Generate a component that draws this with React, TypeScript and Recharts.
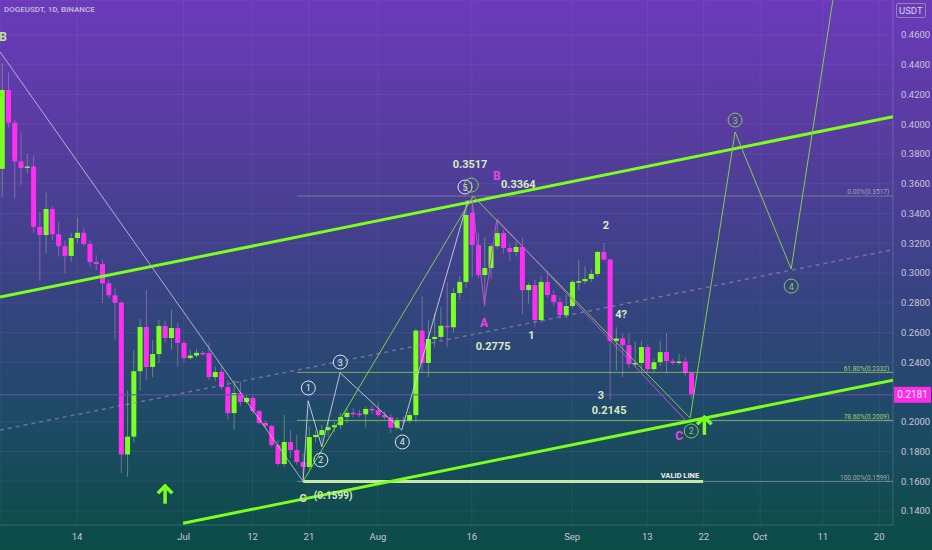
import React from 'react';
import {
  ComposedChart,
  Bar,
  XAxis,
  YAxis,
  CartesianGrid,
  ReferenceLine,
  ReferenceDot,
} from 'recharts';

// day index, 0 = Jun 14
const days = [
  -12, -11, -10, -9, -8, -7, -6, -5, -4, -3, -2, -1, 0, 1, 2, 3, 4, 5, 6, 7, 8, 9, 10,
  11, 12, 13, 14, 15, 16, 17, 18, 19, 20, 21, 22, 23, 24, 25, 26, 27, 28, 29, 30, 31,
  32, 33, 34, 35, 36, 37, 38, 39, 40, 41, 42, 43, 44, 45, 46, 47, 48, 49, 50, 51, 52,
  53, 54, 55, 56, 57, 58, 59, 60, 61, 62, 63, 64, 65, 66, 67, 68, 69, 70, 71, 72, 73,
  74, 75, 76, 77, 78, 79, 80, 81, 82, 83, 84, 85, 86, 87, 88, 89, 90, 91, 92, 93, 94,
  95, 96, 97, 98,
];

const opens = [
  0.370, 0.423, 0.401, 0.375, 0.3706, 0.3716, 0.331, 0.3255, 0.343, 0.326, 0.318, 0.3115,
  0.3235, 0.327, 0.3195, 0.3073, 0.306, 0.293, 0.285, 0.280, 0.178, 0.190, 0.234, 0.2637,
  0.2368, 0.2455, 0.2644, 0.2563, 0.263, 0.253, 0.2428, 0.2445, 0.2463, 0.2461, 0.230,
  0.2335, 0.2233, 0.2058, 0.2193, 0.2133, 0.216, 0.2072, 0.1992, 0.1972, 0.1843, 0.1716,
  0.1864, 0.181, 0.1729, 0.1696, 0.1897, 0.1911, 0.1944, 0.1963, 0.1977, 0.2032, 0.206,
  0.2055, 0.205, 0.2086, 0.2078, 0.2045, 0.203, 0.196, 0.2012, 0.2005, 0.2045, 0.2613,
  0.2395, 0.2556, 0.257, 0.2645, 0.2635, 0.2865, 0.294, 0.3405, 0.3188, 0.2986, 0.3033,
  0.318, 0.3268, 0.3168, 0.3141, 0.3175, 0.2885, 0.2919, 0.2684, 0.294, 0.2852, 0.2805,
  0.2717, 0.2778, 0.294, 0.2945, 0.296, 0.2993, 0.3142, 0.309, 0.2543, 0.256, 0.2515,
  0.2388, 0.2395, 0.2502, 0.2354, 0.240, 0.2468, 0.2408, 0.2395, 0.2405, 0.2327,
];

const highs = [
  0.441, 0.435, 0.403, 0.395, 0.380, 0.379, 0.341, 0.354, 0.345, 0.334, 0.322, 0.327,
  0.3375, 0.330, 0.322, 0.312, 0.309, 0.295, 0.290, 0.281, 0.221, 0.248, 0.269, 0.2885,
  0.255, 0.2685, 0.268, 0.275, 0.2665, 0.2545, 0.2485, 0.249, 0.2475, 0.253, 0.237,
  0.237, 0.228, 0.228, 0.227, 0.218, 0.2185, 0.208, 0.201, 0.198, 0.188, 0.2045,
  0.1945, 0.191, 0.179, 0.197, 0.194, 0.198, 0.200, 0.200, 0.206, 0.209, 0.209,
  0.208, 0.210, 0.211, 0.213, 0.207, 0.205, 0.203, 0.2035, 0.207, 0.2625, 0.284,
  0.2685, 0.273, 0.277, 0.294, 0.290, 0.298, 0.349, 0.3517, 0.327, 0.324, 0.3195,
  0.3364, 0.329, 0.3195, 0.321, 0.324, 0.2935, 0.2953, 0.2975, 0.301, 0.2885, 0.284,
  0.2855, 0.2953, 0.3088, 0.3045, 0.3025, 0.3145, 0.3202, 0.3095, 0.2635, 0.2595,
  0.2595, 0.254, 0.2545, 0.2518, 0.2425, 0.2545, 0.2595, 0.2425, 0.2455, 0.2435, 0.2335,
];

const lows = [
  0.351, 0.398, 0.350, 0.359, 0.367, 0.327, 0.295, 0.313, 0.322, 0.311, 0.300, 0.3075,
  0.320, 0.318, 0.304, 0.302, 0.280, 0.283, 0.255, 0.1655, 0.163, 0.186, 0.221, 0.228,
  0.230, 0.2395, 0.253, 0.2483, 0.237, 0.2405, 0.2415, 0.243, 0.2445, 0.228, 0.2275,
  0.2215, 0.201, 0.1945, 0.2105, 0.212, 0.2055, 0.198, 0.1955, 0.183, 0.170, 0.1696,
  0.1756, 0.171, 0.1599, 0.168, 0.186, 0.187, 0.190, 0.193, 0.195, 0.199, 0.203,
  0.203, 0.196, 0.205, 0.2035, 0.2015, 0.1925, 0.1945, 0.198, 0.199, 0.200, 0.233,
  0.230, 0.250, 0.255, 0.250, 0.260, 0.282, 0.290, 0.2975, 0.2965, 0.2775, 0.296,
  0.316, 0.313, 0.308, 0.311, 0.272, 0.2795, 0.2637, 0.2665, 0.2835, 0.2775, 0.2695,
  0.2695, 0.2765, 0.2885, 0.2925, 0.294, 0.2975, 0.3085, 0.2145, 0.2345, 0.230,
  0.236, 0.2365, 0.2325, 0.233, 0.2335, 0.2375, 0.2325, 0.2385, 0.2385, 0.2305, 0.2155,
];

const closes = [
  0.423, 0.401, 0.375, 0.3706, 0.3716, 0.331, 0.3255, 0.343, 0.326, 0.318, 0.3115, 0.3235,
  0.327, 0.3195, 0.3073, 0.306, 0.293, 0.285, 0.280, 0.178, 0.190, 0.234, 0.2637, 0.2368,
  0.2455, 0.2644, 0.2563, 0.263, 0.253, 0.2428, 0.2445, 0.2463, 0.2461, 0.230, 0.2335,
  0.2233, 0.2058, 0.2193, 0.2133, 0.216, 0.2072, 0.1992, 0.1972, 0.1843, 0.1716, 0.1864,
  0.181, 0.1729, 0.1696, 0.1897, 0.1911, 0.1944, 0.1963, 0.1977, 0.2032, 0.206, 0.2055,
  0.205, 0.2086, 0.2078, 0.2045, 0.203, 0.196, 0.2012, 0.2005, 0.2045, 0.2613, 0.2395,
  0.2556, 0.257, 0.2645, 0.2635, 0.2865, 0.294, 0.339, 0.3188, 0.2986, 0.3033, 0.318,
  0.3268, 0.3168, 0.3141, 0.3175, 0.2885, 0.2919, 0.2684, 0.294, 0.2852, 0.2805, 0.2717,
  0.2778, 0.294, 0.2945, 0.296, 0.2993, 0.3142, 0.309, 0.2543, 0.256, 0.2515, 0.2388,
  0.2395, 0.2502, 0.2354, 0.240, 0.2468, 0.2408, 0.2395, 0.2405, 0.2327, 0.2181,
];

const tickDays = [0, 17, 28, 37, 48, 63, 79, 91, 100, 109, 119, 128];
const tickLabels = ['14', 'Jul', '12', '21', 'Aug', '16', 'Sep', '13', '22', 'Oct', '11', '20'];
const priceTicks = [0.14, 0.16, 0.18, 0.2, 0.24, 0.26, 0.28, 0.3, 0.32, 0.34, 0.36, 0.38, 0.4, 0.42, 0.44, 0.46];
const lastPrice = 0.2181;

// wave paths as [day, price]
const minorWave = [[36.07, 0.1599], [36.87, 0.2141], [39.05, 0.1832], [41.97, 0.2329], [51.8, 0.1944], [62.4, 0.349]];
const majorWave = [[36.07, 0.1599], [63.2, 0.3517], [97.83, 0.2025], [105.0, 0.3948], [113.95, 0.3027], [121.4, 0.505]];
const abcWave = [[63.04, 0.349], [65.0, 0.2785], [66.98, 0.3363], [97.2, 0.2005]];

const rows = days.map((d, i) => ({
  d,
  open: opens[i],
  high: highs[i],
  low: lows[i],
  close: closes[i],
  range: [lows[i], highs[i]],
}));

const UP = '#7dff1f';
const DOWN = '#ff2ef0';
const LIME = '#7cff1c';
const PALE = '#d8ecc0';
const PINK = '#f040e8';
const WAVE_GREEN = '#7fd04a';
const FONT = 'Roboto, sans-serif';

const Candle = (props: any) => {
  const { x, y, width, height, payload } = props;
  if (!payload) return null;
  const { open, close, high, low } = payload;
  const top = Math.min(y, y + height);
  const h = Math.abs(height);
  const k = h / (high - low);
  const cx = x + width / 2;
  const yO = top + (high - open) * k;
  const yC = top + (high - close) * k;
  const up = close >= open;
  const bt = Math.min(yO, yC);
  const bh = Math.max(1.5, Math.abs(yC - yO));
  return (
    <g>
      <line x1={cx} x2={cx} y1={top} y2={top + h} stroke={up ? 'rgba(150,190,130,0.55)' : 'rgba(190,130,210,0.55)'} strokeWidth={1} />
      <rect x={cx - 2.5} y={bt} width={5} height={bh} fill={up ? UP : DOWN} />
    </g>
  );
};

const textShape = (t: string, color: string, size: number, weight = 700, anchor = 'middle') => (p: any) => (
  <text x={p.cx} y={p.cy} fill={color} fontSize={size} fontWeight={weight} textAnchor={anchor} dominantBaseline="central" fontFamily={FONT}>
    {t}
  </text>
);

const circleShape = (n: string, color: string) => (p: any) => (
  <g>
    <circle cx={p.cx} cy={p.cy} r={7} fill="none" stroke={color} strokeWidth={1} />
    <text x={p.cx} y={p.cy + 0.5} fill={color} fontSize={9} textAnchor="middle" dominantBaseline="central" fontFamily={FONT}>{n}</text>
  </g>
);

const arrowShape = (p: any) => (
  <g stroke={LIME} strokeWidth={3.5} fill="none" strokeLinecap="square">
    <path d={`M${p.cx - 6} ${p.cy + 7} L${p.cx} ${p.cy + 1} L${p.cx + 6} ${p.cy + 7}`} />
    <line x1={p.cx} x2={p.cx} y1={p.cy + 2} y2={p.cy + 17} />
  </g>
);

const PriceTag = (props: any) => {
  const vb = props.viewBox || {};
  const x = vb.x + vb.width;
  return (
    <g>
      <rect x={x + 1} y={vb.y - 8} width={37} height={16} fill="#ff2ce6" />
      <text x={x + 19.5} y={vb.y} fill="#ffe6ff" fontSize={10} textAnchor="middle" dominantBaseline="central" fontFamily={FONT}>
        {lastPrice.toFixed(4)}
      </text>
    </g>
  );
};

const poly = (pts: number[][], key: string, stroke: string, width = 1, dash?: string) =>
  pts.slice(1).map((pt, i) => (
    <ReferenceLine
      key={key + i}
      segment={[{ x: pts[i][0], y: pts[i][1] }, { x: pt[0], y: pt[1] }]}
      stroke={stroke}
      strokeWidth={width}
      strokeDasharray={dash}
      ifOverflow="hidden"
    />
  ));

export default function App() {
  return (
    <div
      style={{
        position: 'absolute',
        left: 0,
        top: 0,
        width: 932,
        height: 550,
        overflow: 'hidden',
        background: 'linear-gradient(to bottom, #6b3abb 0%, #573c9f 25%, #3b4286 50%, #1f4a68 75%, #0b4c46 100%)',
        fontFamily: FONT,
      }}
    >
      <ComposedChart width={932} height={550} data={rows} margin={{ top: 0, right: 0, bottom: 0, left: 0 }}>
        <CartesianGrid stroke="rgba(255,255,255,0.06)" />
        <XAxis
          dataKey="d"
          type="number"
          domain={[-12.3, 130.2]}
          allowDataOverflow
          ticks={tickDays}
          tickFormatter={(v: number) => tickLabels[tickDays.indexOf(v)]}
          tick={{ fill: '#c9c6d8', fontSize: 9.5, fontFamily: FONT }}
          tickLine={false}
          axisLine={{ stroke: 'rgba(255,255,255,0.12)' }}
          height={25}
        />
        <YAxis
          orientation="right"
          type="number"
          domain={[0.1306, 0.4835]}
          allowDataOverflow
          ticks={priceTicks}
          tickFormatter={(v: number) => v.toFixed(4)}
          tick={{ fill: '#c9c6d8', fontSize: 9.5, fontFamily: FONT }}
          tickLine={false}
          axisLine={{ stroke: 'rgba(255,255,255,0.12)' }}
          width={39}
        />

        {/* channel */}
        {poly([[-12.3, 0.4487], [36.07, 0.1599]], 'diag', 'rgba(215,215,225,0.75)')}
        {poly([[-12.3, 0.1944], [130.2, 0.3157]], 'mid', 'rgba(160,140,180,0.6)', 1.5, '4 4')}

        {/* fib levels */}
        {poly([[35.1, 0.3517], [130.2, 0.3517]], 'f0', 'rgba(160,175,150,0.55)')}
        {poly([[35.1, 0.2332], [130.2, 0.2332]], 'f61', 'rgba(140,200,90,0.8)')}
        {poly([[35.1, 0.2009], [130.2, 0.2009]], 'f78', 'rgba(140,200,90,0.8)')}
        {poly([[35.1, 0.1599], [130.2, 0.1599]], 'f100', 'rgba(170,180,175,0.55)')}
        <ReferenceLine y={lastPrice} stroke="#6c4fb0" strokeWidth={1} label={<PriceTag />} />

        <Bar dataKey="range" barSize={5} shape={<Candle />} isAnimationActive={false} />

        {poly([[36.07, 0.1599], [99.9, 0.1599]], 'valid', '#c8e8a6', 3)}
        {poly([[-12.3, 0.2838], [130.2, 0.4051]], 'up', LIME, 3)}
        {poly([[16.92, 0.1318], [130.2, 0.228]], 'lo', LIME, 3)}

        {poly(minorWave, 'minor', 'rgba(225,225,235,0.8)')}
        {poly(majorWave, 'major', WAVE_GREEN)}
        {poly(abcWave, 'abc', '#c050d8')}

        {/* labels */}
        <ReferenceDot x={-11.8} y={0.4586} shape={textShape('B', '#c6e59a', 12)} />
        <ReferenceDot x={62.7} y={0.3726} shape={textShape('0.3517', PALE, 11)} />
        <ReferenceDot x={70.4} y={0.3598} shape={textShape('0.3364', PALE, 11)} />
        <ReferenceDot x={66.4} y={0.2509} shape={textShape('0.2775', PALE, 11)} />
        <ReferenceDot x={72.5} y={0.2583} shape={textShape('1', PALE, 11)} />
        <ReferenceDot x={84.4} y={0.3316} shape={textShape('2', PALE, 11)} />
        <ReferenceDot x={86.8} y={0.2724} shape={textShape('4?', PALE, 11)} />
        <ReferenceDot x={83.6} y={0.2178} shape={textShape('3', PALE, 11)} />
        <ReferenceDot x={84.9} y={0.2078} shape={textShape('0.2145', PALE, 11)} />
        <ReferenceDot x={67.0} y={0.3652} shape={textShape('B', PINK, 12)} />
        <ReferenceDot x={64.95} y={0.2664} shape={textShape('A', PINK, 12)} />
        <ReferenceDot x={96.07} y={0.1904} shape={textShape('C', PINK, 12)} />
        <ReferenceDot x={36.07} y={0.1487} shape={textShape('C', '#d8e0d0', 11)} />
        <ReferenceDot x={40.86} y={0.1501} shape={textShape('(0.1599)', PALE, 10)} />
        <ReferenceDot x={96.2} y={0.1642} shape={textShape('VALID LINE', '#f0f0f0', 7.5)} />

        <ReferenceDot x={129.6} y={0.3545} shape={textShape('0.00%(0.3517)', '#a4a2b8', 6.5, 400, 'end')} />
        <ReferenceDot x={129.6} y={0.2356} shape={textShape('61.80%(0.2332)', '#a5d070', 6.5, 400, 'end')} />
        <ReferenceDot x={129.6} y={0.2035} shape={textShape('78.60%(0.2009)', '#a5d070', 6.5, 400, 'end')} />
        <ReferenceDot x={129.6} y={0.1625} shape={textShape('100.00%(0.1599)', '#a4a8a8', 6.5, 400, 'end')} />

        <ReferenceDot x={36.9} y={0.2227} shape={circleShape('1', '#e6e6ee')} />
        <ReferenceDot x={38.9} y={0.1743} shape={circleShape('2', '#e6e6ee')} />
        <ReferenceDot x={42.0} y={0.2401} shape={circleShape('3', '#e6e6ee')} />
        <ReferenceDot x={51.9} y={0.1864} shape={circleShape('4', '#e6e6ee')} />
        <ReferenceDot x={61.9} y={0.3578} shape={circleShape('5', '#e6e6ee')} />
        <ReferenceDot x={62.9} y={0.3591} shape={circleShape('1', WAVE_GREEN)} />
        <ReferenceDot x={98.0} y={0.1938} shape={circleShape('2', WAVE_GREEN)} />
        <ReferenceDot x={105.0} y={0.4028} shape={circleShape('3', WAVE_GREEN)} />
        <ReferenceDot x={113.95} y={0.2912} shape={circleShape('4', WAVE_GREEN)} />

        <ReferenceDot x={14.04} y={0.1575} shape={arrowShape} />
        <ReferenceDot x={100.1} y={0.2038} shape={arrowShape} />
      </ComposedChart>
      <div style={{ position: 'absolute', left: 4, top: 5, fontSize: 8, color: '#bdb6d8', fontWeight: 600 }}>
        DOGEUSDT, 1D, BINANCE
      </div>
      <div
        style={{
          position: 'absolute',
          left: 896,
          top: 3,
          padding: '0 2px',
          fontSize: 9.5,
          lineHeight: '13px',
          color: '#d6d4e4',
          border: '1px solid #8d88aa',
          borderRadius: 2,
          background: '#6a3bb8',
        }}
      >
        USDT
      </div>
    </div>
  );
}
